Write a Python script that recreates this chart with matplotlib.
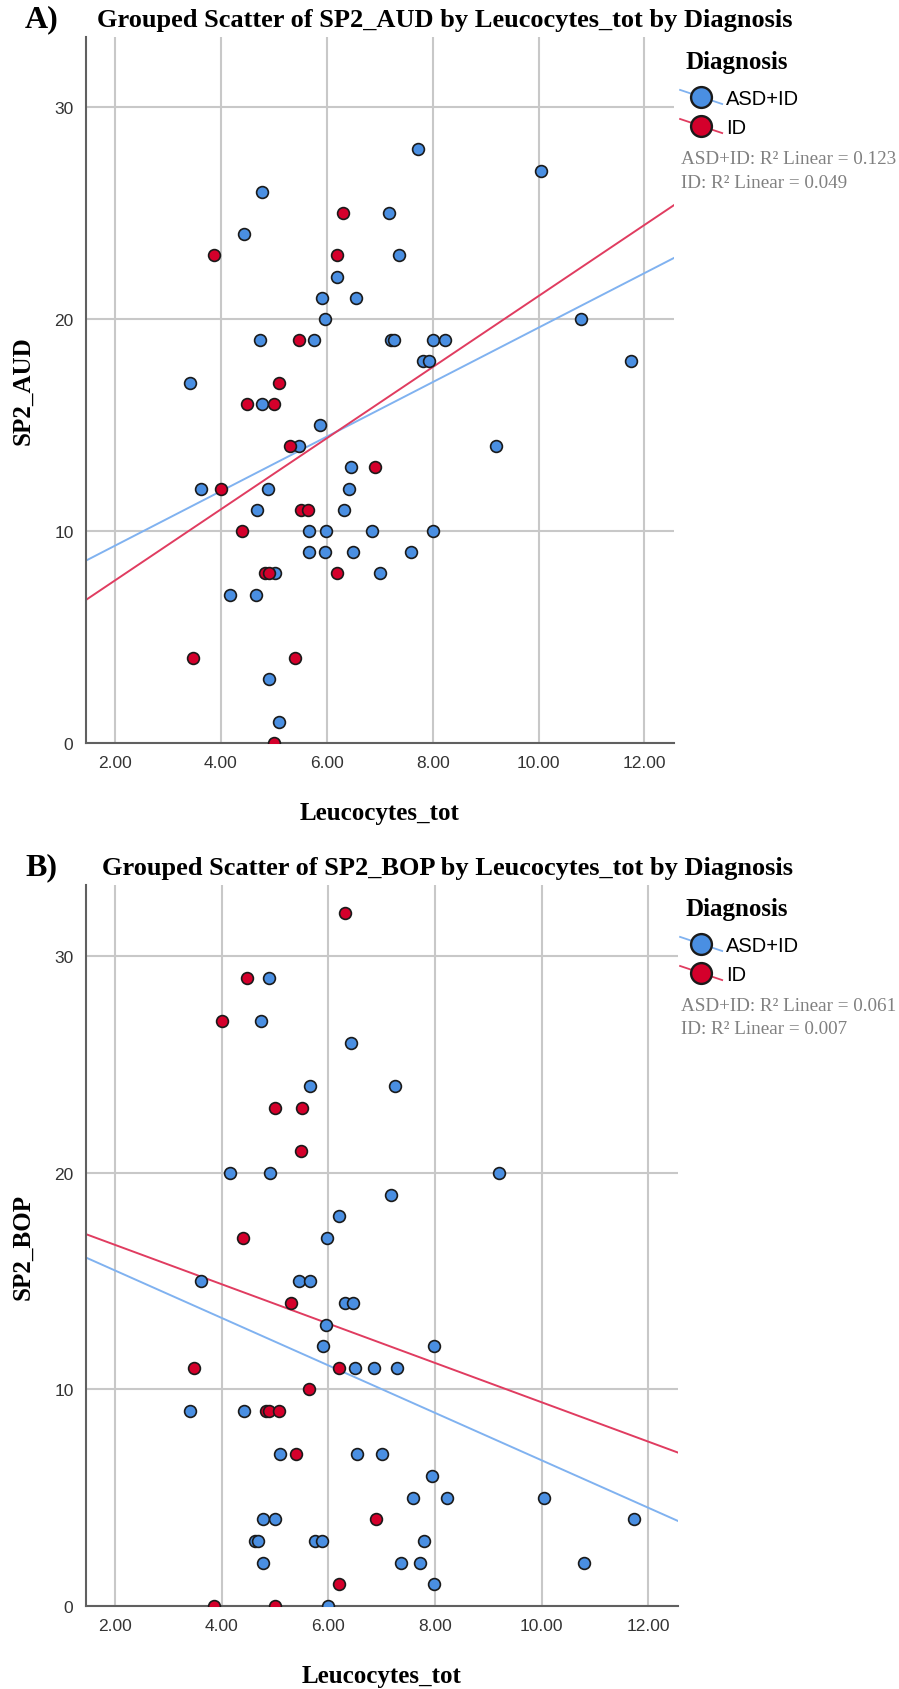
import numpy as np
import matplotlib
matplotlib.use("Agg")
import matplotlib.pyplot as plt
from matplotlib.lines import Line2D
from matplotlib.legend_handler import HandlerBase

# Panel A: SP2_AUD vs Leucocytes_tot
aud_asd_x = [7.72, 4.78, 7.18, 4.43, 7.36, 6.20, 5.90, 6.55, 5.97, 4.74, 5.75, 7.22, 7.27, 8.00, 8.23,
             7.81, 7.94, 3.42, 10.05, 10.80, 11.74, 4.77, 5.88, 5.47, 6.45, 3.62, 4.88, 6.42, 4.68, 6.32,
             5.67, 5.99, 6.86, 8.00, 5.67, 5.97, 6.50, 7.60, 5.02, 7.01, 4.17, 4.66, 4.91, 5.10, 9.20]
aud_asd_y = [28, 26, 25, 24, 23, 22, 21, 21, 20, 19, 19, 19, 19, 19, 19,
             18, 18, 17, 27, 20, 18, 16, 15, 14, 13, 12, 12, 12, 11, 11,
             10, 10, 10, 10, 9, 9, 9, 9, 8, 8, 7, 7, 3, 1, 14]
aud_id_x = [6.31, 3.86, 6.20, 5.48, 5.09, 4.50, 5.01, 5.30, 6.91, 4.00, 5.52, 5.64, 4.40, 4.84, 4.90,
            6.20, 3.48, 5.40, 5.01]
aud_id_y = [25, 23, 23, 19, 17, 16, 16, 14, 13, 12, 11, 11, 10, 8, 8, 8, 4, 4, 0]

# Panel B: SP2_BOP vs Leucocytes_tot
bop_asd_x = [4.88, 4.73, 6.42, 5.66, 7.24, 4.16, 4.91, 9.20, 7.18, 6.20, 5.97, 3.61, 5.45, 5.66, 6.31,
             6.46, 5.96, 5.89, 7.99, 6.49, 6.85, 7.28, 3.41, 4.41, 5.10, 6.53, 7.01, 7.94, 7.59, 8.22,
             10.04, 4.77, 4.99, 11.74, 4.63, 4.68, 5.75, 5.88, 7.80, 4.77, 7.36, 7.71, 10.80, 7.99, 5.99]
bop_asd_y = [29, 27, 26, 24, 24, 20, 20, 20, 19, 18, 17, 15, 15, 15, 14,
             14, 13, 12, 12, 11, 11, 11, 9, 9, 7, 7, 7, 6, 5, 5,
             5, 4, 4, 4, 3, 3, 3, 3, 3, 2, 2, 2, 2, 1, 0]
bop_id_x = [6.31, 4.48, 4.00, 4.99, 5.51, 5.48, 4.40, 5.30, 3.47, 6.19, 5.63, 4.83, 4.89, 5.08, 5.39,
            6.90, 6.19, 3.85, 4.99]
bop_id_y = [32, 29, 27, 23, 23, 21, 17, 14, 11, 11, 10, 9, 9, 9, 7, 4, 1, 0, 0]

# fit lines (intercept, slope)
aud_fit = {"ASD+ID": (6.74, 1.285), "ID": (4.32, 1.676)}
bop_fit = {"ASD+ID": (17.68, -1.095), "ID": (18.49, -0.908)}
aud_r2 = ["ASD+ID: R² Linear = 0.123", "ID: R² Linear = 0.049"]
bop_r2 = ["ASD+ID: R² Linear = 0.061", "ID: R² Linear = 0.007"]

groups = ["ASD+ID", "ID"]
fill = {"ASD+ID": "#4a8fe2", "ID": "#d4002b"}
linec = {"ASD+ID": "#80b2f0", "ID": "#e03c60"}
xticks = [2, 4, 6, 8, 10, 12]
yticks = [0, 10, 20, 30]

W, H = 899, 1690
fig = plt.figure(figsize=(W / 100, H / 100), dpi=100)
serif = "Liberation Serif"
sans = "Liberation Sans"


class DiagHandler(HandlerBase):
    def create_artists(self, legend, orig_handle, xd, yd, width, height, fontsize, trans):
        cx, cy = width / 2 - xd, height / 2 - yd
        ln = Line2D([cx - width * 0.55, cx + width * 0.55], [cy + height * 0.5, cy - height * 0.5],
                    color=orig_handle.get_color(), lw=1.3, transform=trans)
        mk = Line2D([cx], [cy], marker="o", ms=15, mfc=orig_handle.get_markerfacecolor(),
                    mec="#1a1a1a", mew=1.7, ls="none", transform=trans)
        return [ln, mk]


def panel(rect, letter, ylabel, data, fits, r2, leg_y):
    ax = fig.add_axes(rect)
    xlim = (1.45, 12.56)
    ax.set_xlim(*xlim)
    ax.set_ylim(0, 33.3)
    ax.set_xticks(xticks)
    ax.set_xticklabels(["%.2f" % t for t in xticks])
    ax.set_yticks(yticks)
    ax.grid(True, color="#c8c8c8", lw=1.5, zorder=0)
    ax.set_axisbelow(True)
    for s in ["top", "right"]:
        ax.spines[s].set_visible(False)
    for s in ["left", "bottom"]:
        ax.spines[s].set_color("#606060")
        ax.spines[s].set_linewidth(1.5)
    ax.tick_params(length=0, pad=9, labelsize=12.5, labelcolor="#333333")
    for lab in ax.get_xticklabels() + ax.get_yticklabels():
        lab.set_fontfamily(sans)

    xs = np.array(xlim)
    handles = []
    for g in groups:
        b0, b1 = fits[g]
        ax.plot(xs, b0 + b1 * xs, color=linec[g], lw=1.4, zorder=2)
        gx, gy = data[g]
        ax.scatter(gx, gy, s=72, c=fill[g], edgecolors="#1a1a1a", linewidths=1.2, zorder=3)
        handles.append(Line2D([], [], color=linec[g], marker="o", mfc=fill[g], label=g))

    ax.set_xlabel("Leucocytes_tot", fontfamily=serif, fontweight="bold", fontsize=18, labelpad=22)
    ax.set_ylabel(ylabel, fontfamily=serif, fontweight="bold", fontsize=18, labelpad=14)
    ax.set_title("Grouped Scatter of %s by Leucocytes_tot by Diagnosis" % ylabel,
                 fontfamily=serif, fontweight="bold", fontsize=19, pad=8, x=0.61)
    top = rect[1] + rect[3]
    fig.text(25 / W, top + 4 / H, letter, fontfamily=serif, fontweight="bold", fontsize=23,
             ha="left", va="bottom")

    # legend block
    fig.text(686 / W, 1 - leg_y / H, "Diagnosis", fontfamily=serif, fontweight="bold",
             fontsize=18, ha="left", va="center")
    fig.legend(handles=handles, loc="upper left", bbox_to_anchor=(682 / W, 1 - (leg_y + 27) / H),
               frameon=False, handler_map={Line2D: DiagHandler()}, handlelength=1.9,
               handletextpad=0.3, labelspacing=0.5, borderaxespad=0, borderpad=0,
               prop={"family": sans, "size": 14.5})
    for i, t in enumerate(r2):
        fig.text(681 / W, 1 - (leg_y + 97 + 23 * i) / H, t, fontfamily=serif, fontsize=13.8,
                 color="#808080", ha="left", va="center")
    return ax


panel([86 / W, 1 - 744 / H, 588 / W, 706 / H], "A)", "SP2_AUD",
      {"ASD+ID": (aud_asd_x, aud_asd_y), "ID": (aud_id_x, aud_id_y)}, aud_fit, aud_r2, 63)
panel([86 / W, 1 - 1607 / H, 592 / W, 721 / H], "B)", "SP2_BOP",
      {"ASD+ID": (bop_asd_x, bop_asd_y), "ID": (bop_id_x, bop_id_y)}, bop_fit, bop_r2, 910)

fig.savefig("out.png", dpi=100)
